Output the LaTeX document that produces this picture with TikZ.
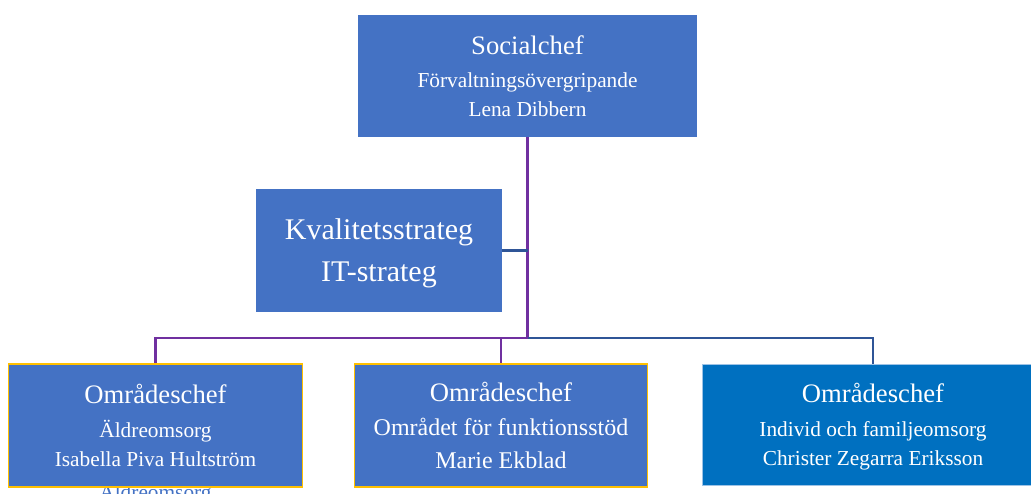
\documentclass[tikz,border=0pt]{standalone}
\usepackage{fontspec}
\setmainfont{Liberation Serif}
\definecolor{officeblue}{HTML}{4472C4}
\definecolor{brightblue}{HTML}{0070C0}
\definecolor{paleblue}{HTML}{9DC3E6}
\definecolor{gold}{HTML}{FFC000}
\definecolor{linepurple}{HTML}{7030A0}
\definecolor{lineblue}{HTML}{2F5597}
\newcommand{\titlesize}{\fontsize{20}{22}\selectfont}

\begin{document}
\begin{tikzpicture}[x=0.75pt,y=-0.75pt,
    box/.style={rectangle,fill=officeblue,text=white,align=center,text depth=0pt,inner sep=0pt},
    chef box/.style={box,minimum width=254.25pt,minimum height=91.5pt,font=\fontsize{16}{22}\selectfont},
    area box/.style={box,draw=gold,line width=0.8pt,minimum width=220pt,minimum height=92.25pt,font=\fontsize{16}{22}\selectfont},
    purple line/.style={draw=linepurple,line width=1.8pt},
    blue line/.style={draw=lineblue,line width=1.8pt}]
	\path[use as bounding box,clip] (0,0) rectangle (1031,493);

	\node[chef box] (soc) at (527.5,76) {{\titlesize Socialchef}\\[2.75pt] Förvaltningsövergripande\\ Lena Dibbern};
	\node[box,minimum width=184.5pt,minimum height=92.25pt,font=\fontsize{22.5}{31.5}\selectfont] (strat) at (379,250.5) {Kvalitetsstrateg\\ IT-strateg};
	\node[text=officeblue,font=\fontsize{16}{22}\selectfont,anchor=base] (spill) at (155.5,499) {Äldreomsorg};
	\node[area box] (area1) at (155.5,425.5) {{\titlesize Områdeschef}\\[3.3pt] Äldreomsorg\\ Isabella Piva Hultström};
	\node[area box,font=\fontsize{18}{25}\selectfont] (area2) at (501,425.5) {{\titlesize Områdeschef}\\ Området för funktionsstöd\\ Marie Ekblad};
	\node[area box,fill=brightblue,draw=paleblue,line width=0.6pt,minimum width=256.5pt,minimum height=90.75pt] (area3) at (873,424.5) {{\titlesize Områdeschef}\\[3.3pt] Individ och familjeomsorg\\ Christer Zegarra Eriksson};

	\coordinate (hub) at (527.5,338);
	\draw[purple line] (soc.south) -- (hub);
	\draw[blue line] (strat.east) -- (strat.east -| hub);
	\draw[purple line] (hub) -| (area1.north);
	\draw[purple line] (hub) -| (area2.north);
	\draw[blue line] (hub) -| (area3.north);
\end{tikzpicture}
\end{document}
